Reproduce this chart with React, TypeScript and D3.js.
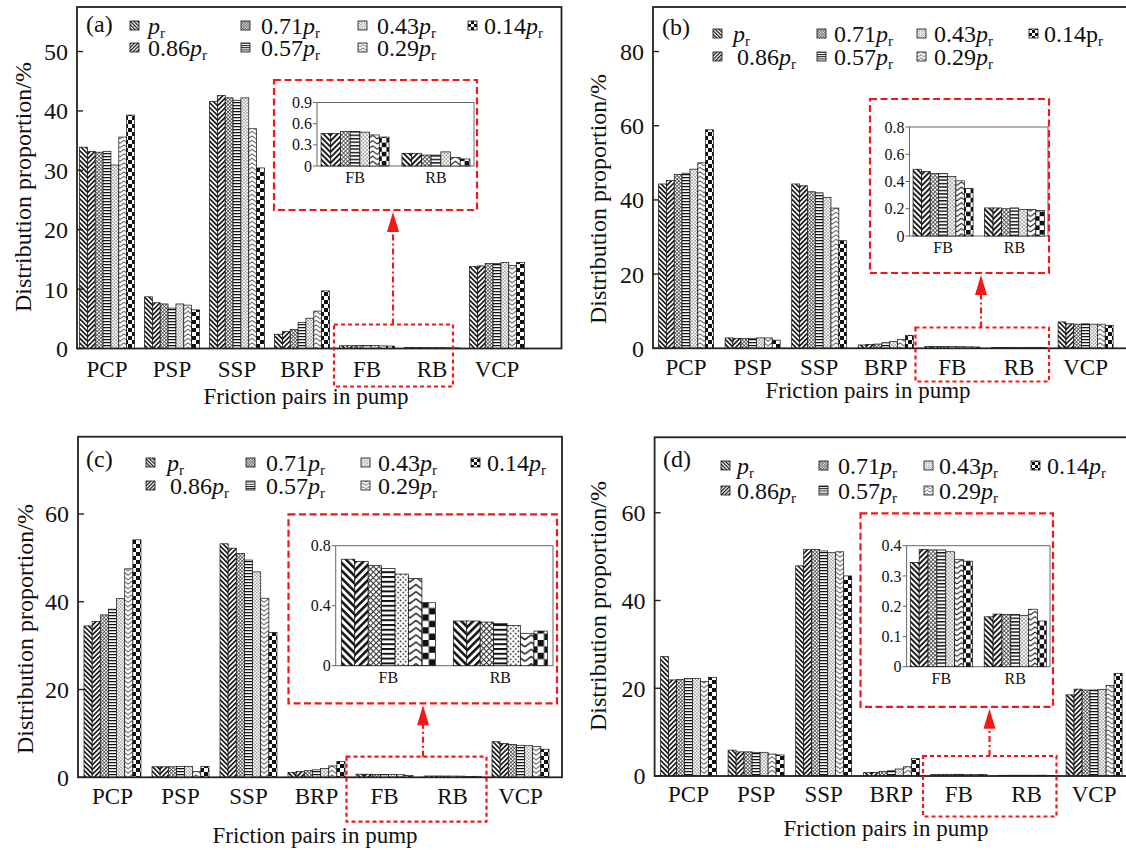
import React from 'react';
import * as d3 from 'd3';

// Friction pairs along the x axis and the zoomed pair subset shown in each inset
const categories = ['PCP', 'PSP', 'SSP', 'BRP', 'FB', 'RB', 'VCP'];
const insetCategories = ['FB', 'RB'];
// Pressure levels as fractions of the rated pressure p_r ('' = p_r itself)
const seriesCoefficients = ['', '0.86', '0.71', '0.57', '0.43', '0.29', '0.14'];

// Distribution proportion (%): one row per pressure level, columns follow `categories`
const valuesA = [
  [33.9, 8.7, 41.6, 2.4, 0.46, 0.18, 13.8],
  [33.2, 7.7, 42.6, 2.85, 0.46, 0.18, 13.9],
  [33.05, 7.5, 42.2, 3.2, 0.49, 0.155, 14.3],
  [33.2, 6.8, 41.8, 4.4, 0.49, 0.155, 14.3],
  [30.9, 7.5, 42.2, 5.1, 0.48, 0.2, 14.5],
  [35.6, 7.3, 37.0, 6.3, 0.44, 0.12, 14.0],
  [39.3, 6.5, 30.4, 9.7, 0.41, 0.1, 14.5],
];
const valuesB = [
  [44.3, 2.8, 44.3, 0.9, 0.49, 0.206, 7.1],
  [45.2, 2.7, 43.8, 1.05, 0.473, 0.206, 6.6],
  [46.9, 2.6, 42.2, 1.15, 0.458, 0.2, 6.5],
  [47.2, 2.7, 41.9, 1.5, 0.458, 0.206, 6.6],
  [48.3, 2.8, 40.7, 1.8, 0.436, 0.194, 6.5],
  [50.0, 2.8, 37.8, 2.4, 0.405, 0.194, 6.5],
  [58.9, 2.2, 29.0, 3.5, 0.35, 0.187, 6.2],
];
const valuesC = [
  [34.5, 2.4, 53.2, 1.1, 0.71, 0.298, 8.1],
  [35.5, 2.4, 52.2, 1.3, 0.696, 0.298, 7.7],
  [37.0, 2.4, 51.0, 1.5, 0.667, 0.291, 7.5],
  [38.3, 2.5, 49.5, 1.7, 0.649, 0.282, 7.3],
  [40.7, 2.5, 46.8, 2.0, 0.611, 0.269, 7.2],
  [47.5, 1.3, 40.8, 2.6, 0.582, 0.216, 7.0],
  [54.1, 2.5, 33.0, 3.6, 0.42, 0.231, 6.4],
];
const valuesD = [
  [27.2, 5.9, 47.9, 0.76, 0.345, 0.165, 18.5],
  [21.9, 5.5, 51.6, 0.84, 0.388, 0.174, 19.8],
  [22.0, 5.5, 51.6, 1.0, 0.386, 0.173, 19.6],
  [22.2, 5.4, 51.3, 1.2, 0.386, 0.173, 19.6],
  [22.2, 5.4, 50.9, 1.6, 0.38, 0.169, 19.7],
  [21.5, 5.0, 51.1, 2.1, 0.355, 0.19, 20.6],
  [22.5, 4.8, 45.6, 4.0, 0.349, 0.151, 23.4],
];

const yTicksA = [0, 10, 20, 30, 40, 50];
const yTicksB = [0, 20, 40, 60, 80];
const yTicksC = [0, 20, 40, 60];
const yTicksD = [0, 20, 40, 60];
const insetTicksA = [0, 0.3, 0.6, 0.9];
const insetTicksB = [0, 0.2, 0.4, 0.6, 0.8];
const insetTicksC = [0, 0.4, 0.8];
const insetTicksD = [0, 0.1, 0.2, 0.3, 0.4];

const FONT = 'Liberation Serif, DejaVu Serif, Noto Serif, serif';
const RED = '#f21818';
const INK = '#111';

// Panel geometry
const layoutA = {
  id: 'a', tag: '(a)', tagPos: [86, 32],
  frame: { x0: 77, x1: 561.5, y0: 7, y1: 348.5 }, yMax: 57.5,
  center0: 107, step: 65, groupWidth: 55,
  yTitle: [23, 187], catY: 377, xTitle: [306, 404],
  legend: { rows: [34, 56], swatchX: [130, 241, 358, 468], textX: [148, 261, 377, 484], row2Shift: 0 },
  uprightLast: false,
  inset: { box: { x: 274, y: 80, w: 203, h: 130 }, frame: { x0: 317, x1: 474, y0: 102.5, y1: 166 }, yMax: 0.9, s: 1.15 },
  zoomBox: { x: 334, y: 324.5, w: 119, h: 62 }, arrowX: 393,
};
const layoutB = {
  id: 'b', tag: '(b)', tagPos: [662, 35],
  frame: { x0: 653, x1: 1145, y0: 7, y1: 348.3 }, yMax: 92,
  center0: 686, step: 66.6, groupWidth: 55,
  yTitle: [598, 199], catY: 375, xTitle: [868, 398],
  legend: { rows: [42, 65], swatchX: [713, 817, 917, 1029], textX: [733, 834, 934, 1044], row2Shift: 4 },
  uprightLast: true,
  inset: { box: { x: 870, y: 99, w: 179, h: 174 }, frame: { x0: 909.5, x1: 1048, y0: 127, y1: 236 }, yMax: 0.8, s: 1.15 },
  zoomBox: { x: 915.5, y: 327.5, w: 133.5, h: 54 }, arrowX: 981,
};
const layoutC = {
  id: 'c', tag: '(c)', tagPos: [86, 467],
  frame: { x0: 78, x1: 562, y0: 436.7, y1: 777.3 }, yMax: 77.6,
  center0: 112.5, step: 68, groupWidth: 57,
  yTitle: [25, 629], catY: 804, xTitle: [315, 843],
  legend: { rows: [471, 494], swatchX: [146, 246, 361, 471], textX: [167, 266, 378, 487], row2Shift: 3 },
  uprightLast: false,
  inset: { box: { x: 288.5, y: 514.3, w: 268.5, h: 189 }, frame: { x0: 335.7, x1: 553, y0: 545.7, y1: 665.7 }, yMax: 0.8, s: 1.6 },
  zoomBox: { x: 346.5, y: 756.7, w: 140, h: 65 }, arrowX: 423,
};
const layoutD = {
  id: 'd', tag: '(d)', tagPos: [663, 467],
  frame: { x0: 654.6, x1: 1145, y0: 437.3, y1: 776 }, yMax: 77.2,
  center0: 688.5, step: 67.6, groupWidth: 56,
  yTitle: [598, 606], catY: 802, xTitle: [886, 836],
  legend: { rows: [474, 499], swatchX: [721, 819, 924, 1031], textX: [737, 838, 939, 1047], row2Shift: 0 },
  uprightLast: false,
  inset: { box: { x: 860.5, y: 513.3, w: 192.5, h: 193.5 }, frame: { x0: 906.6, x1: 1050, y0: 545.7, y1: 666.7 }, yMax: 0.4, s: 1.15 },
  zoomBox: { x: 923, y: 756, w: 133.5, h: 60.5 }, arrowX: 989.5,
};

// Monochrome hatch fills, one per pressure level; `s` scales the hatch size
function HatchSet({ prefix, s }: { prefix: string; s: number }) {
  const d = 3.4 * s;
  const diag = (k: number, angle: number) => (
    <pattern key={k} id={`${prefix}-${k}`} patternUnits="userSpaceOnUse" width={d} height={d}
      patternTransform={`rotate(${angle})`}>
      <rect width={d} height={d} fill="#fff" />
      <rect width={1.6 * s} height={d} fill={INK} />
    </pattern>
  );
  const g = 2.5 * s;
  const h = 3 * s;
  const dt = 3.2 * s;
  const cw = 8 * s;
  const ch = 4.5 * s;
  const c = 4 * s;
  return (
    <>
      {diag(0, -45)}
      {diag(1, 45)}
      <pattern id={`${prefix}-2`} patternUnits="userSpaceOnUse" width={g} height={g} patternTransform="rotate(45)">
        <rect width={g} height={g} fill="#fff" />
        <rect width={0.65 * s} height={g} fill="#333" />
        <rect width={g} height={0.65 * s} fill="#333" />
      </pattern>
      <pattern id={`${prefix}-3`} patternUnits="userSpaceOnUse" width={h} height={h}>
        <rect width={h} height={h} fill="#fff" />
        <rect width={h} height={1.25 * s} fill={INK} />
      </pattern>
      <pattern id={`${prefix}-4`} patternUnits="userSpaceOnUse" width={dt} height={dt}>
        <rect width={dt} height={dt} fill="#fff" />
        <circle cx={0.8 * s} cy={0.8 * s} r={0.55 * s} fill={INK} />
        <circle cx={2.4 * s} cy={2.4 * s} r={0.55 * s} fill={INK} />
      </pattern>
      <pattern id={`${prefix}-5`} patternUnits="userSpaceOnUse" width={cw} height={ch}>
        <rect width={cw} height={ch} fill="#fff" />
        <path d={`M0,${3.8 * s} L${4 * s},${0.8 * s} L${8 * s},${3.8 * s}`} stroke={INK} strokeWidth={0.9 * s} fill="none" />
      </pattern>
      <pattern id={`${prefix}-6`} patternUnits="userSpaceOnUse" width={2 * c} height={2 * c}>
        <rect width={2 * c} height={2 * c} fill="#fff" />
        <rect width={c} height={c} fill={INK} />
        <rect x={c} y={c} width={c} height={c} fill={INK} />
      </pattern>
    </>
  );
}

function SeriesLabel({ x, y, coef, upright }: { x: number; y: number; coef: string; upright: boolean }) {
  return (
    <text x={x} y={y} fontFamily={FONT} fontSize={24} fill={INK}>
      {coef}
      <tspan fontStyle={upright ? 'normal' : 'italic'}>p</tspan>
      <tspan fontSize={15} dy={4}>r</tspan>
    </text>
  );
}

type Layout = typeof layoutA;

function Panel({ cfg, values, yTicks, insetTicks }: { cfg: Layout; values: number[][]; yTicks: number[]; insetTicks: number[] }) {
  const { frame, inset } = cfg;
  const mainHatch = `h-${cfg.id}`;
  const insetHatch = `hi-${cfg.id}`;
  const clipId = `clip-${cfg.id}`;

  const y = d3.scaleLinear().domain([0, cfg.yMax]).range([frame.y1, frame.y0]);
  const pad = 1 - cfg.groupWidth / cfg.step;
  const x = d3.scaleBand<string>()
    .domain(categories)
    .range([cfg.center0 - cfg.step / 2, cfg.center0 + (categories.length - 0.5) * cfg.step])
    .paddingInner(pad)
    .paddingOuter(pad / 2);
  const series = d3.range(seriesCoefficients.length);
  const xs = d3.scaleBand<number>().domain(series).range([0, x.bandwidth()]);

  const iy = d3.scaleLinear().domain([0, inset.yMax]).range([inset.frame.y1, inset.frame.y0]);
  const ix = d3.scaleBand<string>().domain(insetCategories)
    .range([inset.frame.x0, inset.frame.x1]).paddingInner(0.16).paddingOuter(0.05);
  const ixs = d3.scaleBand<number>().domain(series).range([0, ix.bandwidth()]);

  const fmt = d3.format('d');
  const ifmt = (v: number) => (v === 0 ? '0' : d3.format('.1f')(v));

  const box = inset.box;
  const tipY = box.y + box.h + 2;
  const headH = 20;
  const headW = 12;

  return (
    <g>
      <defs>
        <HatchSet prefix={mainHatch} s={1} />
        <HatchSet prefix={insetHatch} s={inset.s} />
        <HatchSet prefix={`hl-${cfg.id}`} s={0.75} />
        <clipPath id={clipId}>
          <rect x={frame.x0} y={frame.y0} width={frame.x1 - frame.x0} height={frame.y1 - frame.y0} />
        </clipPath>
      </defs>

      {/* bars */}
      <g clipPath={`url(#${clipId})`}>
        {series.map((si) =>
          categories.map((cat, ci) => {
            const v = values[si][ci];
            return (
              <rect key={`${si}-${cat}`} x={(x(cat) ?? 0) + (xs(si) ?? 0)} y={y(v)}
                width={xs.bandwidth()} height={y(0) - y(v)}
                fill={`url(#${mainHatch}-${si})`} stroke={INK} strokeWidth={0.7} />
            );
          })
        )}
      </g>

      {/* frame and y axis */}
      <rect x={frame.x0} y={frame.y0} width={frame.x1 - frame.x0} height={frame.y1 - frame.y0}
        fill="none" stroke="#222" strokeWidth={1.8} />
      {yTicks.map((t) => (
        <g key={t}>
          <line x1={frame.x0} x2={frame.x0 + 6} y1={y(t)} y2={y(t)} stroke="#222" strokeWidth={1.4} />
          <text x={frame.x0 - 9} y={y(t)} dy="0.35em" textAnchor="end" fontFamily={FONT} fontSize={24} fill={INK}>
            {fmt(t)}
          </text>
        </g>
      ))}
      {categories.map((cat) => (
        <text key={cat} x={(x(cat) ?? 0) + x.bandwidth() / 2} y={cfg.catY} textAnchor="middle"
          fontFamily={FONT} fontSize={23} fill={INK}>{cat}</text>
      ))}
      <text x={cfg.xTitle[0]} y={cfg.xTitle[1]} textAnchor="middle" fontFamily={FONT} fontSize={23} fill={INK}>
        Friction pairs in pump
      </text>
      <text transform={`translate(${cfg.yTitle[0]},${cfg.yTitle[1]}) rotate(-90)`} textAnchor="middle"
        dominantBaseline="central" fontFamily={FONT} fontSize={24} fill={INK}>
        Distribution proportion/%
      </text>
      <text x={cfg.tagPos[0]} y={cfg.tagPos[1]} fontFamily={FONT} fontSize={24} fill={INK}>{cfg.tag}</text>

      {/* legend */}
      {series.map((si) => {
        const col = Math.floor(si / 2);
        const row = si % 2;
        const by = cfg.legend.rows[row];
        const tx = cfg.legend.textX[col] + (row === 1 && col === 0 ? cfg.legend.row2Shift : 0);
        return (
          <g key={si}>
            <rect x={cfg.legend.swatchX[col]} y={by - 13} width={9} height={9}
              fill={`url(#hl-${cfg.id}-${si})`} stroke={INK} strokeWidth={0.8} />
            <SeriesLabel x={tx} y={by} coef={seriesCoefficients[si]}
              upright={cfg.uprightLast && si === series.length - 1} />
          </g>
        );
      })}

      {/* inset of the two smallest pairs */}
      <rect x={inset.frame.x0} y={inset.frame.y0} width={inset.frame.x1 - inset.frame.x0}
        height={inset.frame.y1 - inset.frame.y0} fill="#fff" stroke="#666" strokeWidth={1} />
      {series.map((si) =>
        insetCategories.map((cat) => {
          const v = values[si][categories.indexOf(cat)];
          return (
            <rect key={`i-${si}-${cat}`} x={(ix(cat) ?? 0) + (ixs(si) ?? 0)} y={iy(v)}
              width={ixs.bandwidth()} height={iy(0) - iy(v)}
              fill={`url(#${insetHatch}-${si})`} stroke={INK} strokeWidth={0.7} />
          );
        })
      )}
      {insetTicks.map((t) => (
        <g key={`it-${t}`}>
          <line x1={inset.frame.x0 - 4} x2={inset.frame.x0} y1={iy(t)} y2={iy(t)} stroke="#666" strokeWidth={1} />
          <text x={inset.frame.x0 - 5} y={iy(t)} dy="0.35em" textAnchor="end" fontFamily={FONT} fontSize={16} fill={INK}>
            {ifmt(t)}
          </text>
        </g>
      ))}
      {insetCategories.map((cat) => (
        <text key={`ic-${cat}`} x={(ix(cat) ?? 0) + ix.bandwidth() / 2} y={inset.frame.y1 + 17}
          textAnchor="middle" fontFamily={FONT} fontSize={16} fill={INK}>{cat}</text>
      ))}

      {/* zoom callout */}
      <rect x={box.x} y={box.y} width={box.w} height={box.h} fill="none" stroke={RED}
        strokeWidth={2.2} strokeDasharray="7 3.5" />
      <rect x={cfg.zoomBox.x} y={cfg.zoomBox.y} width={cfg.zoomBox.w} height={cfg.zoomBox.h} fill="none"
        stroke={RED} strokeWidth={2.2} strokeDasharray="4 3" />
      <line x1={cfg.arrowX} x2={cfg.arrowX} y1={cfg.zoomBox.y} y2={tipY + headH - 1} stroke={RED}
        strokeWidth={2.2} strokeDasharray="6 3 2 3" />
      <path d={`M${cfg.arrowX},${tipY} L${cfg.arrowX + headW / 2},${tipY + headH} L${cfg.arrowX - headW / 2},${tipY + headH} Z`}
        fill={RED} />
    </g>
  );
}

export default function App() {
  return (
    <svg width={1126} height={850} viewBox="0 0 1126 850"
      style={{ position: 'absolute', left: 0, top: 0, background: '#fff' }}>
      <rect width={1126} height={850} fill="#fff" />
      <Panel cfg={layoutA} values={valuesA} yTicks={yTicksA} insetTicks={insetTicksA} />
      <Panel cfg={layoutB} values={valuesB} yTicks={yTicksB} insetTicks={insetTicksB} />
      <Panel cfg={layoutC} values={valuesC} yTicks={yTicksC} insetTicks={insetTicksC} />
      <Panel cfg={layoutD} values={valuesD} yTicks={yTicksD} insetTicks={insetTicksD} />
    </svg>
  );
}
